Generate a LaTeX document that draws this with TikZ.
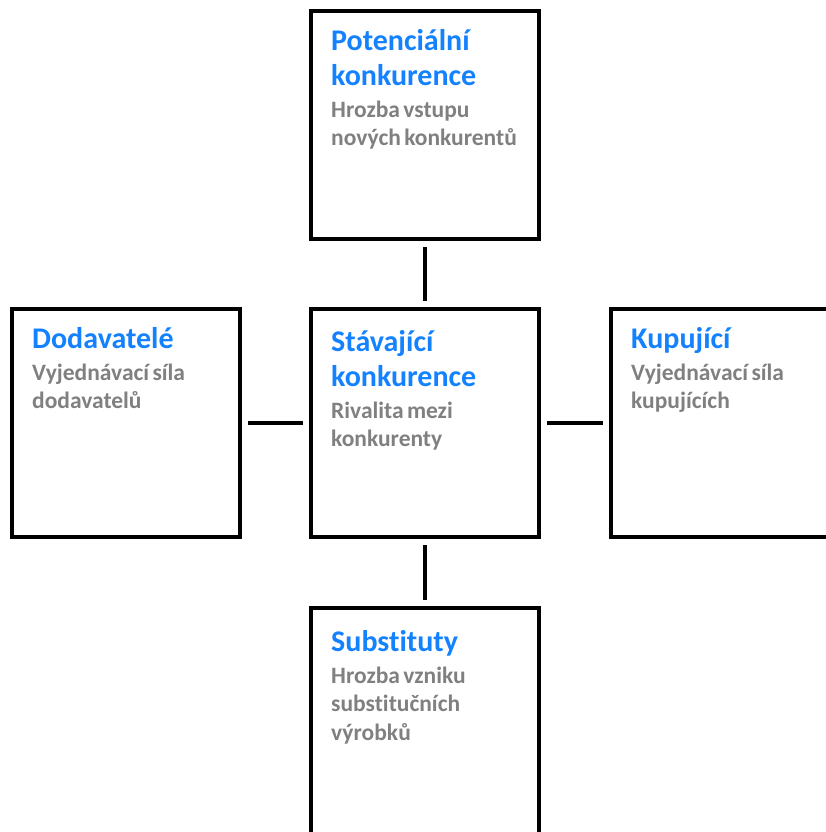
\documentclass[tikz,border=0pt]{standalone}
\usepackage{fontspec}
\setmainfont[Ligatures=NoCommon]{Carlito}
\usetikzlibrary{positioning}
\definecolor{forceblue}{RGB}{20,130,255}
\definecolor{forcegray}{RGB}{128,128,128}
\tikzset{
    forcebox/.style={draw, line width=4, minimum width=228, minimum height=228},
    forcetext/.style={anchor=north west, inner sep=0, text width=205, align=left},
    link/.style={line width=4, shorten <=6, shorten >=6}
}
\newcommand{\forcelabel}[4][0]{
    \node[forcetext] at ([shift={(22,20+#1)}]#2.north west)
        {{\fontsize{30}{35}\selectfont\bfseries\color{forceblue}\rule{0pt}{21pt}#3\par}
         \vskip 3.5pt
         {\fontsize{23.5}{28.5}\selectfont\bfseries\color{forcegray}#4\par}};
}

\begin{document}
\begin{tikzpicture}[x=1pt, y=-1pt]
    \useasboundingbox (0,0) rectangle (825,832);

    % Boxes
    \node[forcebox] (potential) at (425,125) {};
    \node[forcebox] (rivalry) at (425,423) {};
    \node[forcebox] (suppliers) at (126,423) {};
    \node[forcebox] (buyers) at (725,423) {};
    \node[forcebox] (substitutes) at (425,722) {};

    % Texts
    \forcelabel{potential}{Potenciální\\konkurence}{Hrozba vstupu\\nových konkurentů}
    \forcelabel[3]{rivalry}{Stávající\\konkurence}{Rivalita mezi\\konkurenty}
    \forcelabel{suppliers}{Dodavatelé}{Vyjednávací síla\\dodavatelů}
    \forcelabel{buyers}{Kupující}{Vyjednávací síla\\kupujících}
    \forcelabel[4]{substitutes}{Substituty}{Hrozba vzniku\\substitučních\\výrobků}

    % Links
    \draw[link] (potential) -- (rivalry);
    \draw[link] (suppliers) -- (rivalry);
    \draw[link] (rivalry) -- (buyers);
    \draw[link] (rivalry) -- (substitutes);
\end{tikzpicture}
\end{document}
